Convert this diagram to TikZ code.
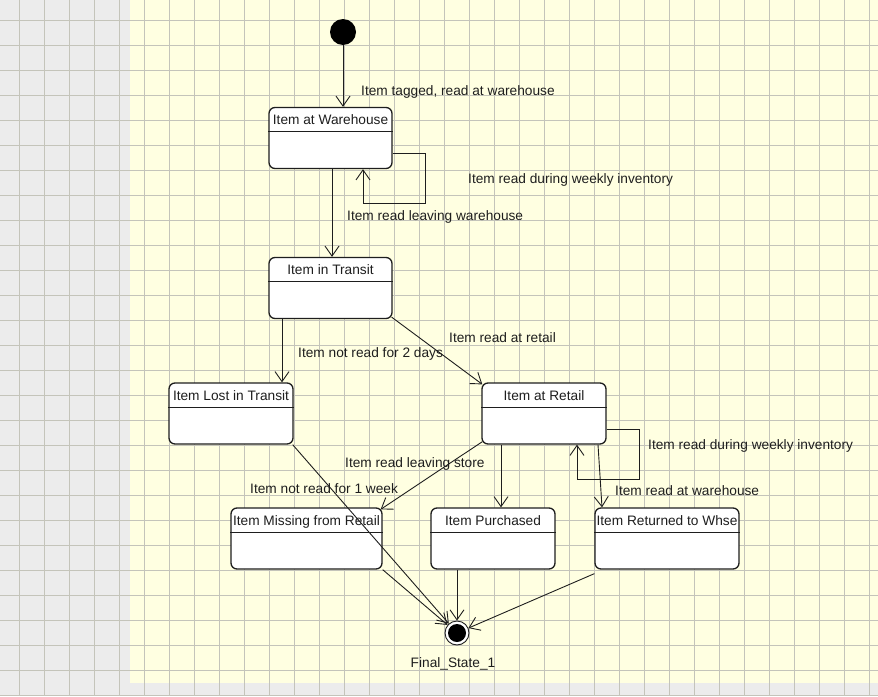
\documentclass[tikz,border=0pt]{standalone}
\usepackage{fontspec}
\setmainfont{Liberation Sans}
\usetikzlibrary{arrows.meta}
\definecolor{bgyel}{RGB}{255,255,225}
\definecolor{bggray}{RGB}{236,236,236}
\definecolor{gridc}{RGB}{196,196,186}
\definecolor{inkc}{RGB}{30,30,30}
\begin{document}
\begin{tikzpicture}[x=1pt,y=-1pt,
  txt/.style={font=\fontsize{13.7}{15}\selectfont, inner sep=0pt, text=inkc},
  state/.style={draw=inkc, rounded corners=6pt, fill=white, line width=1.3pt, minimum height=61pt, inner sep=0pt},
  ttl/.style={txt, anchor=base},
  lbl/.style={txt, anchor=base west},
  hdr/.style={draw=inkc, line width=1.1pt},
  arr/.style={draw=inkc, line width=0.9pt, -{Straight Barb[length=10pt,width=14pt,line width=0.9pt]}},
  loopline/.style={draw=inkc, line width=0.9pt, -{Straight Barb[length=10pt,width=14pt,line width=0.9pt]}}]
\useasboundingbox (0,0) rectangle (878,696);
% background
\fill[bggray] (0,0) rectangle (878,696);
\fill[bgyel] (130,0) rectangle (878,683);
\foreach \i in {0,...,34} \draw[gridc, line width=0.8pt] ({19+25*\i},0) -- ({19+25*\i},696);
\foreach \j in {0,...,27} \draw[gridc, line width=0.8pt] (0,{20+25*\j}) -- (878,{20+25*\j});

% initial and final
\node[circle, fill=black, minimum size=26pt, inner sep=0pt] (init) at (343,32) {};
\node[circle, draw=inkc, line width=0.9pt, fill=white, minimum size=24pt, inner sep=0pt] (fin) at (457,633) {};
\fill[black] (fin.center) circle (9pt);
\node[ttl] (finlbl) at (453,667) {Final\_State\_1};

% states
\node[state, minimum width=123pt] (wh) at (330.5,138) {};
\node[state, minimum width=123pt] (tr) at (330.5,288) {};
\node[state, minimum width=124pt] (lost) at (231,413.5) {};
\node[state, minimum width=124pt] (ret) at (544,413.5) {};
\node[state, minimum width=151pt] (miss) at (306.5,538.5) {};
\node[state, minimum width=124pt] (pur) at (493,538.5) {};
\node[state, minimum width=144pt] (rtw) at (667,538.5) {};

\foreach \n/\t in {wh/Item at Warehouse, tr/Item in Transit, lost/Item Lost in Transit, ret/Item at Retail, miss/Item Missing from Retail, pur/Item Purchased, rtw/Item Returned to Whse}{
  \node[ttl] (\n-t) at ([yshift=-18pt]\n.north) {\t};
  \draw[hdr] ([yshift=-25pt]\n.north west) -- ([yshift=-25pt]\n.north east);
}

% transitions
\draw[arr] (init) -- (init |- wh.north);
\node[lbl] (l1) at (361,95) {Item tagged, read at warehouse};

\draw[loopline] (wh.east |- 0,153) -- (425,153) -- (425,203) -- (363,203) -- (363,0 |- wh.south);
\node[lbl] (l2) at (468,183) {Item read during weekly inventory};

\draw[arr] (332,0 |- wh.south) -- (332,0 |- tr.north);
\node[lbl] (l3) at (347,220) {Item read leaving warehouse};

\draw[arr] (282,0 |- tr.south) -- (282,0 |- lost.north);
\node[lbl] (l4) at (298,357) {Item not read for 2 days};

\draw[arr] ([xshift=-1pt,yshift=2pt]tr.south east) -- ([xshift=1pt,yshift=-2pt]ret.north west);
\node[lbl] (l5) at (449,342) {Item read at retail};

\draw[loopline] (ret.east |- 0,429) -- (639,429) -- (639,479) -- (577,479) -- (577,0 |- ret.south);
\node[lbl] (l6) at (648,449) {Item read during weekly inventory};

\draw[arr] (598,0 |- ret.south) -- (602,0 |- rtw.north);
\node[lbl] (l7) at (615,495) {Item read at warehouse};

\draw[arr] (501,0 |- ret.south) -- (501,0 |- pur.north);

\draw[arr] ([xshift=1pt,yshift=3pt]ret.south west) -- ([xshift=-2pt,yshift=-2pt]miss.north east);
\node[lbl] (l8) at (345,467) {Item read leaving store};

\draw[arr] ([xshift=-1pt]lost.south east) -- (fin);
\node[lbl] (l9) at (250,493) {Item not read for 1 week};

\draw[arr] (miss.south east) -- (fin);
\draw[arr] (457,0 |- pur.south) -- (fin);
\draw[arr] ([yshift=-4pt]rtw.south west) -- (fin);
\end{tikzpicture}
\end{document}
